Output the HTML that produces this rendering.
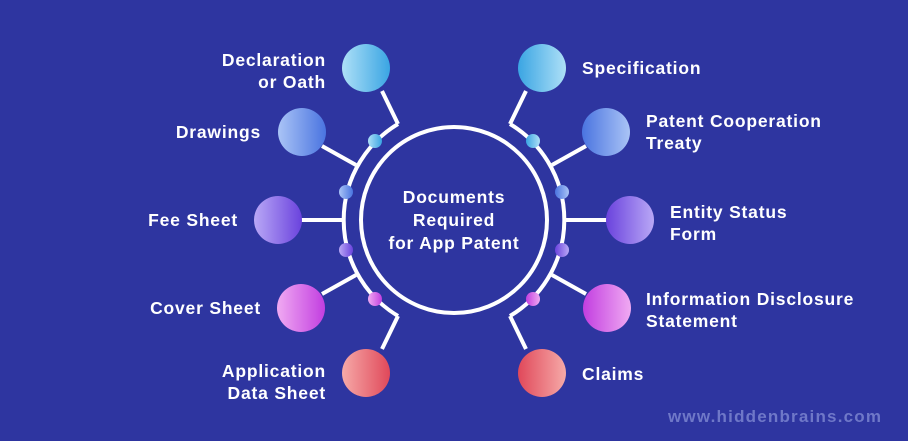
<!DOCTYPE html>
<html><head><meta charset="utf-8"><style>
html,body{margin:0;padding:0;background:#2e35a0;}
svg{display:block}
text{font-family:"Liberation Sans",sans-serif;font-weight:bold;fill:#fff;font-size:17.5px;letter-spacing:0.8px}
</style></head><body>
<svg width="908" height="441" viewBox="0 0 908 441">
<defs>
<linearGradient id="g1" x1="0" x2="1"><stop offset="0" stop-color="#aee0f7"/><stop offset="1" stop-color="#3aa5e3"/></linearGradient>
<linearGradient id="g2" x1="0" x2="1"><stop offset="0" stop-color="#aac4f6"/><stop offset="1" stop-color="#4a74e0"/></linearGradient>
<linearGradient id="g3" x1="0" x2="1"><stop offset="0" stop-color="#b9a8f6"/><stop offset="1" stop-color="#6a42dd"/></linearGradient>
<linearGradient id="g4" x1="0" x2="1"><stop offset="0" stop-color="#f0aaf2"/><stop offset="1" stop-color="#c23ee0"/></linearGradient>
<linearGradient id="g5" x1="0" x2="1"><stop offset="0" stop-color="#f6aaa8"/><stop offset="1" stop-color="#e0485a"/></linearGradient>
<linearGradient id="h1" x1="1" x2="0"><stop offset="0" stop-color="#aee0f7"/><stop offset="1" stop-color="#3aa5e3"/></linearGradient>
<linearGradient id="h2" x1="1" x2="0"><stop offset="0" stop-color="#aac4f6"/><stop offset="1" stop-color="#4a74e0"/></linearGradient>
<linearGradient id="h3" x1="1" x2="0"><stop offset="0" stop-color="#b9a8f6"/><stop offset="1" stop-color="#6a42dd"/></linearGradient>
<linearGradient id="h4" x1="1" x2="0"><stop offset="0" stop-color="#f0aaf2"/><stop offset="1" stop-color="#c23ee0"/></linearGradient>
<linearGradient id="h5" x1="1" x2="0"><stop offset="0" stop-color="#f6aaa8"/><stop offset="1" stop-color="#e0485a"/></linearGradient>
</defs>
<g fill="none" stroke="#fff" stroke-width="4">
<circle cx="454" cy="220" r="93"/>
<path d="M398 124 A112 112 0 0 0 398 316"/>
<path d="M510 124 A112 112 0 0 1 510 316"/>
<polyline points="382,91 398,124"/>
<polyline points="382,349 398,316"/>
<polyline points="526,91 510,124"/>
<polyline points="526,349 510,316"/>
<line x1="322" y1="146" x2="356" y2="165"/>
<line x1="300" y1="220" x2="342" y2="220"/>
<line x1="322" y1="294" x2="356" y2="275"/>
<line x1="586" y1="146" x2="552" y2="165"/>
<line x1="608" y1="220" x2="566" y2="220"/>
<line x1="586" y1="294" x2="552" y2="275"/>
</g>
<circle cx="366" cy="68" r="24" fill="url(#g1)"/>
<circle cx="302" cy="132" r="24" fill="url(#g2)"/>
<circle cx="278" cy="220" r="24" fill="url(#g3)"/>
<circle cx="301" cy="308" r="24" fill="url(#g4)"/>
<circle cx="366" cy="373" r="24" fill="url(#g5)"/>
<circle cx="542" cy="68" r="24" fill="url(#h1)"/>
<circle cx="606" cy="132" r="24" fill="url(#h2)"/>
<circle cx="630" cy="220" r="24" fill="url(#h3)"/>
<circle cx="607" cy="308" r="24" fill="url(#h4)"/>
<circle cx="542" cy="373" r="24" fill="url(#h5)"/>
<circle cx="375" cy="141" r="7" fill="url(#g1)"/>
<circle cx="346" cy="192" r="7" fill="url(#g2)"/>
<circle cx="346" cy="250" r="7" fill="url(#g3)"/>
<circle cx="375" cy="299" r="7" fill="url(#g4)"/>
<circle cx="533" cy="141" r="7" fill="url(#h1)"/>
<circle cx="562" cy="192" r="7" fill="url(#h2)"/>
<circle cx="562" cy="250" r="7" fill="url(#h3)"/>
<circle cx="533" cy="299" r="7" fill="url(#h4)"/>
<g text-anchor="middle" style="font-size:19px;letter-spacing:1.2px">
<text x="454" y="203">Documents</text>
<text x="454" y="226">Required</text>
<text x="454" y="249">for App Patent</text>
</g>
<g text-anchor="end">
<text x="326" y="66">Declaration</text>
<text x="326" y="88">or Oath</text>
<text x="261" y="138">Drawings</text>
<text x="238" y="226">Fee Sheet</text>
<text x="261" y="314">Cover Sheet</text>
<text x="326" y="377">Application</text>
<text x="326" y="399">Data Sheet</text>
</g>
<text x="582" y="74">Specification</text>
<text x="646" y="127">Patent Cooperation</text>
<text x="646" y="149">Treaty</text>
<text x="670" y="218">Entity Status</text>
<text x="670" y="240">Form</text>
<text x="646" y="305">Information Disclosure</text>
<text x="646" y="327">Statement</text>
<text x="582" y="380">Claims</text>
<text x="668" y="422" style="fill:#6f78c8;font-size:17px;letter-spacing:1.2px">www.hiddenbrains.com</text>
</svg>
</body></html>
